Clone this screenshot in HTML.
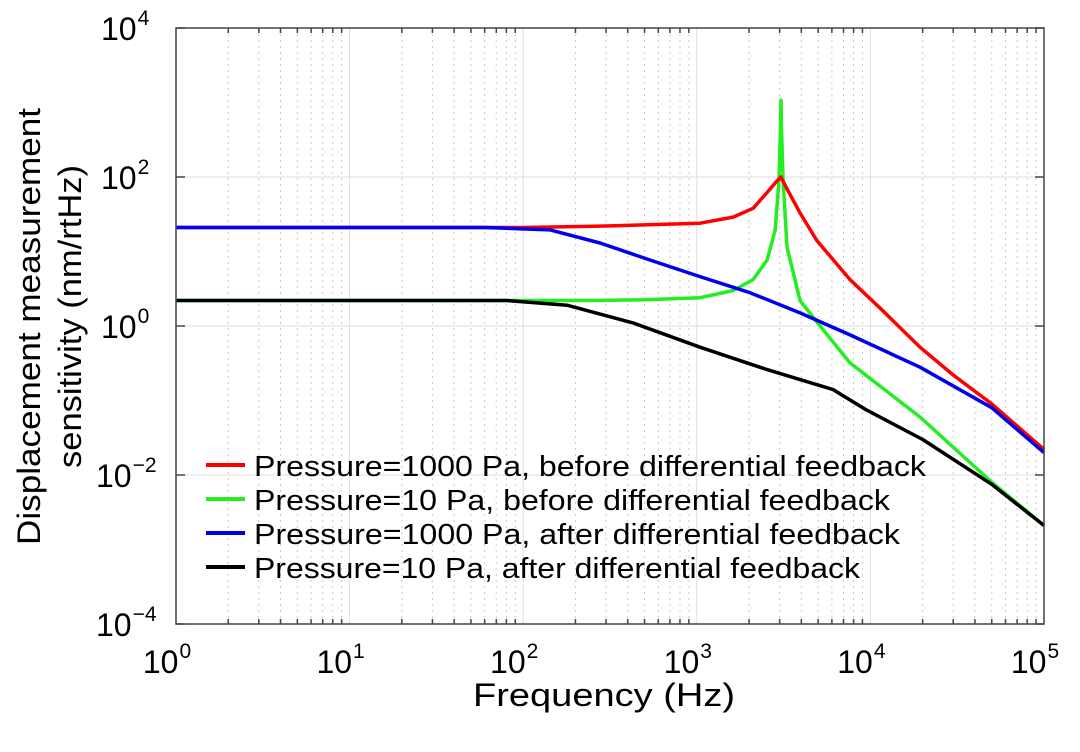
<!DOCTYPE html>
<html><head><meta charset="utf-8"><style>
body{margin:0;background:#fff}
svg text{font-family:"Liberation Sans",sans-serif;fill:#000}
</style></head><body>
<svg id="chart" width="1080" height="747" xmlns="http://www.w3.org/2000/svg">
<g id="grid"></g>
<g id="series"></g>
<rect x="176" y="28" width="868" height="596" fill="none" stroke="#444" stroke-width="1.5"/>
<g id="ticks"></g>
<text x="473" y="706" font-size="32" textLength="262" lengthAdjust="spacingAndGlyphs">Frequency (Hz)</text>
<text transform="translate(40,545) rotate(-90)" font-size="32" textLength="437" lengthAdjust="spacingAndGlyphs">Displacement measurement</text>
<text transform="translate(81,468) rotate(-90)" font-size="32" textLength="303" lengthAdjust="spacingAndGlyphs">sensitivity (nm/rtHz)</text>
<g id="legend"></g>
</svg>
<script>
const xTickExps=[0,1,2,3,4,5];
const yTickExps=[4,2,0,-2,-4];
const seriesNames=["Pressure=1000 Pa, before differential feedback","Pressure=10 Pa, before differential feedback","Pressure=1000 Pa, after differential feedback","Pressure=10 Pa, after differential feedback"];
const seriesColors=["#ff0000","#22ee22","#0000ee","#000000"];
const redF=[1,100,300,1043,1620,2110,2540,2850,3050,3300,3930,4920,7630,11800,19300,30000,50000,100000];
const redV=[21,21,22,24,29,38,62,85,100,70,33,14,4.2,1.6,0.52,0.22,0.09,0.022];
const greenF=[1,250,500,1043,1620,2110,2540,2830,2977,3030,3055,3080,3140,3310,3930,5130,7630,19300,50000,100000];
const greenV=[2.2,2.2,2.25,2.4,3.0,4.2,7.7,19.5,92,400,1070,400,92,11.5,2.2,1.0,0.32,0.06,0.008,0.0021];
const blueF=[1,60,143,277,537,1043,2024,3930,7630,19300,50000,100000];
const blueV=[21,21,19.5,13,7.7,4.6,2.8,1.5,0.76,0.28,0.08,0.02];
const blackF=[1,80,179,429,1043,2540,6100,9550,20000,50000,100000];
const blackV=[2.2,2.2,1.9,1.1,0.52,0.26,0.14,0.074,0.03,0.0075,0.0021];
const allF=[redF,greenF,blueF,blackF];
const allV=[redV,greenV,blueV,blackV];

const X0=176,X1=1044,Y0=28,Y1=624;
function xs(f){return X0+(X1-X0)*Math.log10(f)/5;}
function ys(v){return Y0+(Y1-Y0)*(4-Math.log10(v))/8;}
const NS="http://www.w3.org/2000/svg";
function mk(tag,attrs,parent){const e=document.createElementNS(NS,tag);for(const k in attrs)e.setAttribute(k,attrs[k]);parent.appendChild(e);return e;}
const grid=document.getElementById('grid'),ticks=document.getElementById('ticks');
for(let d=0;d<5;d++)for(let m=2;m<=9;m++){const x=xs(m*Math.pow(10,d));
 const l=mk('line',{x1:x,x2:x,y1:Y0,y2:Y1,stroke:'#ccc','stroke-width':1,'stroke-dasharray':'2,4'},grid);
 
 
 const t1=mk('line',{x1:x,x2:x,y1:Y0,y2:Y0+5,stroke:'#444','stroke-width':1.5},ticks);
 
 
 const t2=mk('line',{x1:x,x2:x,y1:Y1,y2:Y1-5,stroke:'#444','stroke-width':1.5},ticks);
 
 }
xTickExps.forEach(e=>{const x=xs(Math.pow(10,e));
 const l=mk('line',{x1:x,x2:x,y1:Y0,y2:Y1,stroke:'#ddd','stroke-width':1},grid);
 
 
 const t=mk('text',{x:x-9,y:673,'font-size':32,'text-anchor':'middle'},ticks);
 
 
 t.textContent='10';
 const s=mk('tspan',{dx:1,dy:-15,'font-size':21},t);s.textContent=String(e);});
yTickExps.forEach(e=>{const y=ys(Math.pow(10,e));
 const l=mk('line',{x1:X0,x2:X1,y1:y,y2:y,stroke:'#ddd','stroke-width':1},grid);
 
 
 const tk=mk('line',{x1:X0,x2:X0+9,y1:y,y2:y,stroke:'#444','stroke-width':1.5},ticks);
 
 
 const tk2=mk('line',{x1:X1,x2:X1-9,y1:y,y2:y,stroke:'#444','stroke-width':1.5},ticks);
 
 
 const t=mk('text',{x:e<0?96:101,y:y+12,'font-size':32},ticks);
 
 
 t.textContent='10';
 const s=mk('tspan',{dx:1,dy:-15,'font-size':21},t);s.textContent=(e<0?'\u2212'+(-e):String(e));});
const sg=document.getElementById('series');
[1,0,2,3].forEach(i=>{
 const pts=allF[i].map((f,j)=>xs(f).toFixed(1)+','+ys(allV[i][j]).toFixed(1)).join(' ');
 const p=mk('polyline',{points:pts,fill:'none',stroke:seriesColors[i],'stroke-width':3.5,'stroke-linejoin':'round'},sg);
 
 });
const lg=document.getElementById('legend');
const legendLen=[672,636,646,606];
seriesNames.forEach((n,i)=>{const y=465+34*i;
 const l=mk('line',{x1:206,x2:245,y1:y,y2:y,stroke:seriesColors[i],'stroke-width':4},lg);
 
 
 const t=mk('text',{x:254,y:y+11,'font-size':29,textLength:legendLen[i],lengthAdjust:'spacingAndGlyphs'},lg);
 
 
 t.textContent=n;});
</script>
</body></html>
